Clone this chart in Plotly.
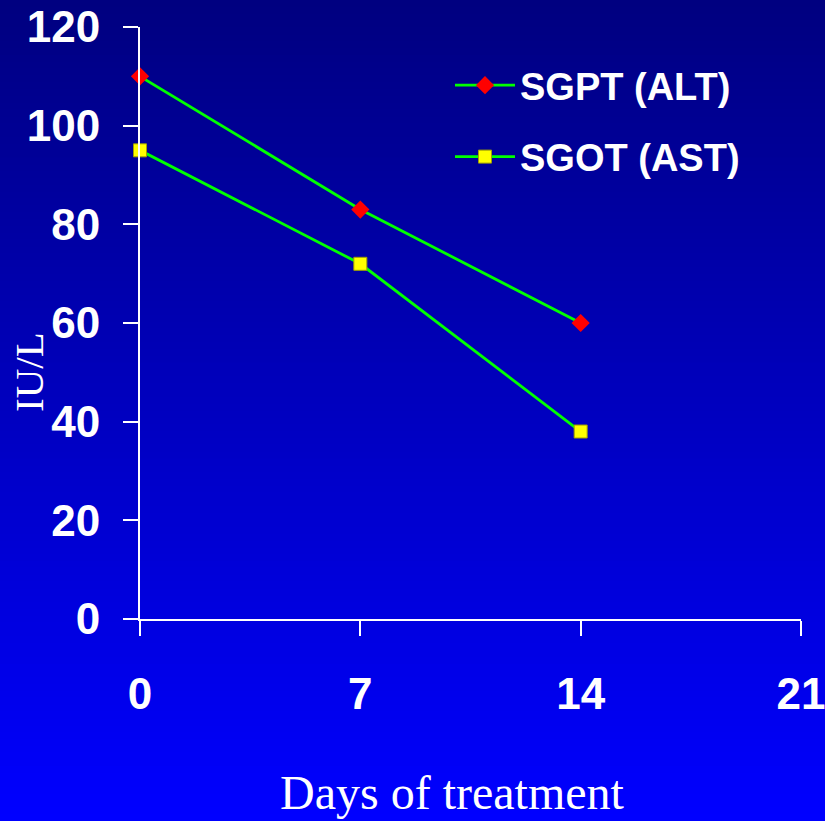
import plotly.graph_objects as go

days = [0, 7, 14]
sgpt = [110, 83, 60]
sgot = [95, 72, 38]
x_ticks = [0, 7, 14, 21]
y_ticks = [0, 20, 40, 60, 80, 100, 120]
series_names = ["SGPT (ALT)", "SGOT (AST)"]

W, H = 825, 821
ML, MR, MT, MB = 140, 24, 27, 202
PW, PH = W - ML - MR, H - MT - MB

fig = go.Figure()
fig.add_trace(go.Scatter(
    x=days, y=sgpt, name=series_names[0], mode="lines+markers",
    line=dict(color="#00FF00", width=2.8),
    marker=dict(symbol="diamond", size=14, color="#FF0000", line=dict(width=0)),
    cliponaxis=False, legendgroup="a"))
fig.add_trace(go.Scatter(
    x=days, y=sgot, name=series_names[1], mode="lines+markers",
    line=dict(color="#00FF00", width=2.8),
    marker=dict(symbol="square", size=13, color="#FFFF00", line=dict(width=1, color="#A0A000")),
    cliponaxis=False, legendgroup="b"))

# vertical gradient background
shapes = []
N = 120
x0 = -ML / PW
x1 = 1 + MR / PW
for i in range(N):
    t = i / (N - 1)
    b = round(128 + (255 - 128) * t)
    ytop = 1 + MT / PH - (i / N) * (H / PH)
    ybot = 1 + MT / PH - ((i + 1) / N) * (H / PH) - 0.002
    shapes.append(dict(type="rect", xref="paper", yref="paper", x0=x0, x1=x1,
                       y0=ybot, y1=ytop, fillcolor=f"rgb(0,0,{b})",
                       line=dict(width=0), layer="below"))

tickfont = dict(family="Liberation Sans", size=44, color="white", weight="bold")
fig.update_layout(
    width=W, height=H, autosize=False,
    margin=dict(l=ML, r=MR, t=MT, b=MB, autoexpand=False),
    paper_bgcolor="rgb(0,0,128)", plot_bgcolor="rgba(0,0,0,0)",
    shapes=shapes,
    showlegend=True,
    legend=dict(x=(450 - ML) / PW, y=1 - (54 - MT) / PH, xanchor="left", yanchor="top",
                bgcolor="rgba(0,0,0,0)", font=dict(family="Liberation Sans", size=38,
                color="white", weight="bold"), tracegroupgap=19, traceorder="grouped",
                itemwidth=60),
    xaxis=dict(range=[0, 21], tickvals=x_ticks, ticktext=[str(v) for v in x_ticks],
               showgrid=False, zeroline=False, showline=True, linecolor="white", linewidth=2,
               ticks="outside", ticklen=15, tickwidth=2, tickcolor="white",
               tickfont=tickfont, ticklabelstandoff=20, automargin=False,
               ticklabeloverflow="allow"),
    yaxis=dict(range=[0, 120], tickvals=y_ticks, showgrid=False, zeroline=False,
               showline=True, linecolor="white", linewidth=2,
               ticks="outside", ticklen=15, tickwidth=2, tickcolor="white",
               tickfont=tickfont, ticklabelstandoff=14, automargin=False,
               ticklabeloverflow="allow"),
    annotations=[
        dict(text="Days of treatment", xref="paper", yref="paper",
             x=(452 - ML) / PW, y=-(821 - MT - PH) / PH, xanchor="center", yanchor="bottom",
             showarrow=False, font=dict(family="Liberation Serif", size=48, color="white")),
        dict(text="IU/L", xref="paper", yref="paper", textangle=-90,
             x=(29 - ML) / PW, y=1 - (372 - MT) / PH, xanchor="center", yanchor="middle",
             showarrow=False, font=dict(family="Liberation Serif", size=41, color="white")),
    ],
)

fig.write_html("out.html", config={"displayModeBar": False},
               post_script="document.body.style.margin='0';document.body.style.overflow='hidden';")
